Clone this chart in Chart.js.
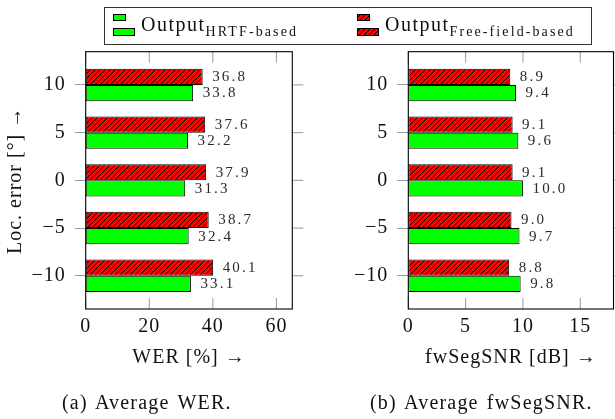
<!DOCTYPE html>
<html>
<head>
<meta charset="utf-8">
<script src="https://cdn.jsdelivr.net/npm/chart.js@4"></script>
<style>
  html, body { margin: 0; padding: 0; background: #fff; }
  #wrap { position: relative; width: 615px; height: 419px; overflow: hidden; font-family: "Liberation Serif", serif; color: #111; }
  canvas { position: absolute; top: 0; }
  #cA { left: 0; }
  #cB { left: 310px; }
  #legend { position: absolute; left: 104px; top: 7.3px; width: 486px; height: 36px; border: 1px solid #333; }
  .ico { position: absolute; border: 1px solid #000; box-sizing: border-box; }
  .green { background: #00ff00; }
  .red { background: repeating-linear-gradient(-45deg, #ff0000 0 2.7px, #000 2.7px 3.5px); }
  .ltxt { position: absolute; top: 7.2px; font-size: 20px; line-height: 18px; letter-spacing: 1.5px; white-space: nowrap; }
  .ltxt sub { font-size: 14px; vertical-align: -4.5px; line-height: 0; letter-spacing: 2.1px; }
  .cap { position: absolute; top: 391.7px; font-size: 20px; line-height: 20px; letter-spacing: 1.2px; word-spacing: 2px; white-space: nowrap; }
</style>
</head>
<body>
<div id="wrap">
  <canvas id="cA" width="310" height="419"></canvas>
  <canvas id="cB" width="305" height="419"></canvas>
  <div id="legend">
    <div class="ico green" style="left:8px; top:6px; width:13px; height:7px;"></div>
    <div class="ico green" style="left:8px; top:19.5px; width:22px; height:8px;"></div>
    <div class="ltxt" style="left:36px;">Output<sub>HRTF-based</sub></div>
    <div class="ico red" style="left:252px; top:6px; width:13px; height:7px;"></div>
    <div class="ico red" style="left:252px; top:19.5px; width:22px; height:8px;"></div>
    <div class="ltxt" style="left:280px;">Output<sub>Free-field-based</sub></div>
  </div>
  <div class="cap" style="left:62px;">(a) Average WER.</div>
  <div class="cap" style="left:370px;">(b) Average fwSegSNR.</div>
</div>
<script>
// ---- data ----
const categories = [10, 5, 0, -5, -10];          // localization error [deg]
const werHRTF = [33.8, 32.2, 31.3, 32.4, 33.1];
const werFree = [36.8, 37.6, 37.9, 38.7, 40.1];
const snrHRTF = [9.4, 9.6, 10.0, 9.7, 9.8];
const snrFree = [8.9, 9.1, 9.1, 9.0, 8.8];
const yTicks = [-10, -5, 0, 5, 10];
const werTicks = [0, 20, 40, 60];
const snrTicks = [0, 5, 10, 15];
const labelHRTF = 'Output HRTF-based';
const labelFree = 'Output Free-field-based';
const yTitle = 'Loc. error [°] →';
const werTitle = 'WER [%] →';
const snrTitle = 'fwSegSNR [dB] →';

// ---- styles ----
const FONT = '"Liberation Serif", serif';
const TEXT = '#111';
const TICKC = '#9a9a9a';

function hatchPattern() {
  const c = document.createElement('canvas');
  c.width = 5; c.height = 5;
  const g = c.getContext('2d');
  g.fillStyle = '#ff0000';
  g.fillRect(0, 0, 5, 5);
  g.strokeStyle = '#000';
  g.lineWidth = 0.9;
  g.beginPath();
  g.moveTo(0, 5); g.lineTo(5, 0);
  g.moveTo(-1, 1); g.lineTo(1, -1);
  g.moveTo(4, 6); g.lineTo(6, 4);
  g.stroke();
  return g.createPattern(c, 'repeat');
}
const HATCH = hatchPattern();

const minus = v => String(v).replace('-', '\u2212');

const framePlugin = {
  id: 'frame',
  beforeDraw(chart) { chart.ctx.letterSpacing = '1px'; },
  afterDatasetsDraw(chart) {
    const ctx = chart.ctx, a = chart.chartArea;
    const xs = chart.scales.x, ys = chart.scales.y;
    ctx.save();
    ctx.letterSpacing = '0px';
    ctx.strokeStyle = TICKC;
    ctx.lineWidth = 1;
    ctx.beginPath();
    xs.ticks.forEach(t => {
      const px = xs.getPixelForValue(t.value);
      ctx.moveTo(px, a.bottom); ctx.lineTo(px, a.bottom - 11);
      ctx.moveTo(px, a.top); ctx.lineTo(px, a.top + 11);
    });
    ys.ticks.forEach(t => {
      const py = ys.getPixelForValue(t.value);
      ctx.moveTo(a.right, py); ctx.lineTo(a.right + 11, py);
    });
    ctx.stroke();
    ctx.strokeStyle = '#000';
    ctx.lineWidth = 1.1;
    ctx.strokeRect(a.left, a.top, a.right - a.left, a.bottom - a.top);
    // value labels
    ctx.font = '15px ' + FONT;
    ctx.letterSpacing = '2.2px';
    ctx.fillStyle = '#2a2a2a';
    ctx.textAlign = 'left';
    ctx.textBaseline = 'middle';
    chart.data.datasets.forEach((ds, di) => {
      const meta = chart.getDatasetMeta(di);
      meta.data.forEach((el, i) => {
        ctx.fillText(ds.data[i].x.toFixed(1), el.x + 9.5, el.y + 0.5);
      });
    });
    ctx.restore();
  }
};

function makeChart(id, free, hrtf, xTicks, xMax, xTitle, opts) {
  const ds = (vals, bg, label) => ({
    label,
    data: categories.map((c, i) => ({ x: vals[i], y: c })),
    backgroundColor: bg,
    borderColor: '#000',
    borderWidth: 1,
    borderSkipped: false,
    categoryPercentage: 0.68,
    barPercentage: 1
  });
  return new Chart(document.getElementById(id), {
    type: 'bar',
    data: {
      datasets: [ds(free, HATCH, labelFree), ds(hrtf, '#00ff00', labelHRTF)]
    },
    options: {
      indexAxis: 'y',
      responsive: false,
      animation: false,
      devicePixelRatio: 1,
      layout: { padding: { top: 51.7, bottom: 49.3, left: 0, right: opts.padRight } },
      plugins: { legend: { display: false }, tooltip: { enabled: false } },
      scales: {
        x: {
          type: 'linear', min: 0, max: xMax, offset: false,
          afterBuildTicks: s => { s.ticks = xTicks.map(v => ({ value: v })); },
          afterFit: s => { s.height = 60.7; },
          grid: { display: false, drawTicks: false },
          border: { display: false },
          ticks: { color: TEXT, font: { family: FONT, size: 20 }, padding: 5.5, maxRotation: 0 },
          title: { display: true, text: xTitle, color: TEXT, font: { family: FONT, size: 20 }, padding: 0 }
        },
        y: {
          type: 'linear', min: -13.48, max: 13.48, offset: false,
          afterBuildTicks: s => { s.ticks = yTicks.map(v => ({ value: v })); },
          afterFit: s => { s.width = opts.yWidth; },
          grid: { display: true, drawOnChartArea: false, drawTicks: true, tickLength: 11, color: TICKC, offset: false },
          border: { display: false },
          ticks: { color: TEXT, font: { family: FONT, size: 20 }, padding: 9, callback: v => minus(v) },
          title: { display: opts.showTitle, text: yTitle, color: TEXT, font: { family: FONT, size: 20 }, padding: { top: 4, bottom: 0 } }
        }
      }
    },
    plugins: [framePlugin]
  });
}

makeChart('cA', werFree, werHRTF, werTicks, 65, werTitle, { padRight: 17.7, yWidth: 85.7, showTitle: true });
makeChart('cB', snrFree, snrHRTF, snrTicks, 17.9, snrTitle, { padRight: 1.5, yWidth: 98.3, showTitle: false });
</script>
</body>
</html>
